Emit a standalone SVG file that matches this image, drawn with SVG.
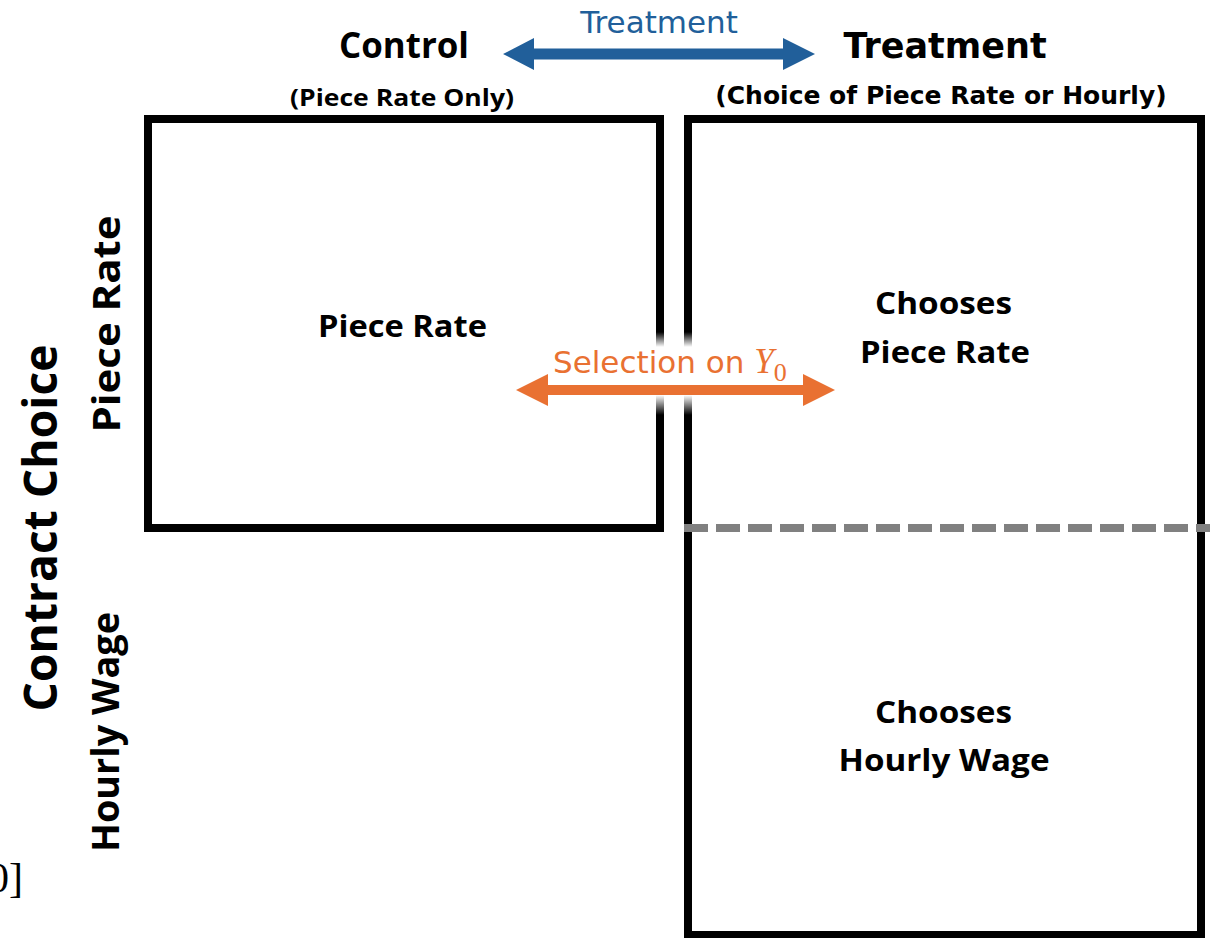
<svg xmlns="http://www.w3.org/2000/svg" width="1216" height="938" viewBox="0 0 1216 938">
  <defs>
    <style>
      .box { fill: none; stroke: #000; stroke-width: 8; }
      .split { stroke: #808080; stroke-width: 8; stroke-dasharray: 24 8; fill: none; }
      .cal { font-family: "Open Sans", "Liberation Sans", sans-serif; font-weight: 700; fill: #000; }
      .apt { font-family: "DejaVu Sans", "Liberation Sans", sans-serif; fill: #000; }
      .blue { fill: #215F9A; }
      .orange { fill: #E97132; }
      .math { font-family: "Liberation Serif", "DejaVu Serif", serif; }
    </style>
    <!-- soft fade that breaks the box edges where the selection arrow crosses -->
    <linearGradient id="fade" x1="0" y1="0" x2="0" y2="1">
      <stop offset="0" stop-color="#fff" stop-opacity="0"/>
      <stop offset="0.18" stop-color="#fff" stop-opacity="1"/>
      <stop offset="0.76" stop-color="#fff" stop-opacity="1"/>
      <stop offset="1" stop-color="#fff" stop-opacity="0"/>
    </linearGradient>
  </defs>

  <rect width="1216" height="938" fill="#fff"/>

  <!-- column headers -->
  <g id="control-header">
    <text class="cal" x="404" y="58" font-size="36" text-anchor="middle" textLength="130" lengthAdjust="spacingAndGlyphs">Control</text>
    <text class="cal" x="402" y="106" font-size="23" text-anchor="middle" textLength="224" lengthAdjust="spacingAndGlyphs">(Piece Rate Only)</text>
  </g>
  <g id="treatment-header">
    <text class="apt" x="945" y="58" font-size="35" font-weight="700" text-anchor="middle">Treatment</text>
    <text class="apt" x="941" y="104" font-size="25" font-weight="700" text-anchor="middle">(Choice of Piece Rate or Hourly)</text>
  </g>

  <!-- row labels -->
  <g id="axis-label">
    <text class="cal" transform="translate(57 528) rotate(-90)" font-size="46" text-anchor="middle" textLength="367" lengthAdjust="spacingAndGlyphs">Contract Choice</text>
  </g>
  <g id="row-piece-rate">
    <text class="cal" transform="translate(120 324) rotate(-90)" font-size="38" text-anchor="middle" textLength="217" lengthAdjust="spacingAndGlyphs">Piece Rate</text>
  </g>
  <g id="row-hourly-wage">
    <text class="cal" transform="translate(119 732) rotate(-90)" font-size="38" text-anchor="middle" textLength="240" lengthAdjust="spacingAndGlyphs">Hourly Wage</text>
  </g>

  <!-- control cell -->
  <g id="control-box">
    <rect class="box" x="148" y="119" width="512" height="409"/>
    <text class="cal" x="402.5" y="337" font-size="30" text-anchor="middle" textLength="169" lengthAdjust="spacingAndGlyphs">Piece Rate</text>
  </g>

  <!-- treatment column -->
  <g id="treatment-box">
    <rect class="box" x="688" y="119" width="513" height="816"/>
    <line class="split" x1="684" y1="528" x2="1210" y2="528"/>
  </g>
  <g id="chooses-piece-rate">
    <text class="cal" x="943.5" y="314" font-size="30" text-anchor="middle" textLength="137" lengthAdjust="spacingAndGlyphs">Chooses</text>
    <text class="cal" x="945" y="363" font-size="30" text-anchor="middle" textLength="170" lengthAdjust="spacingAndGlyphs">Piece Rate</text>
  </g>
  <g id="chooses-hourly-wage">
    <text class="cal" x="943.5" y="723" font-size="30" text-anchor="middle" textLength="137" lengthAdjust="spacingAndGlyphs">Chooses</text>
    <text class="cal" x="944" y="771" font-size="30" text-anchor="middle" textLength="211" lengthAdjust="spacingAndGlyphs">Hourly Wage</text>
  </g>

  <!-- fragment of an equation at the lower left edge -->
  <text class="math" x="-12" y="892" font-size="42">0]</text>

  <!-- connectors -->
  <g id="connectors">
    <rect x="650" y="332" width="48" height="83" fill="url(#fade)"/>
    <g id="treatment-arrow">
      <path class="blue" d="M503 54 L534 38 L534 48.5 L783 48.5 L783 38 L815 54 L783 70 L783 59.5 L534 59.5 L534 70 Z"/>
      <text class="apt blue" x="659" y="33" font-size="31" text-anchor="middle">Treatment</text>
    </g>
    <g id="selection-arrow">
      <path class="orange" d="M516 390 L548 374 L548 385 L803 385 L803 374 L835 390 L803 406 L803 395 L548 395 L548 406 Z"/>
      <text class="apt orange" x="553" y="373" font-size="31">Selection on <tspan class="math" font-style="italic" font-size="35">Y</tspan><tspan class="math" font-size="26" dy="8">0</tspan></text>
    </g>
  </g>
</svg>
